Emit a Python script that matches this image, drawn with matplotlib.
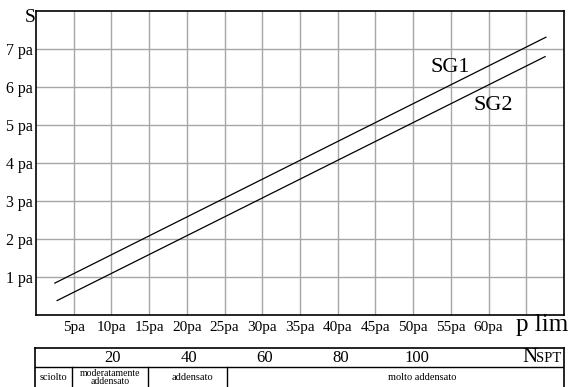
import matplotlib
matplotlib.use("Agg")
import matplotlib.pyplot as plt

# p lim (pa) against S (pa)
sg1_x = [2.5, 67.6]
sg1_y = [0.84, 7.31]
sg2_x = [2.8, 67.5]
sg2_y = [0.38, 6.80]

x_ticks = [5, 10, 15, 20, 25, 30, 35, 40, 45, 50, 55, 60, 65]
x_labels = ["5pa", "10pa", "15pa", "20pa", "25pa", "30pa", "35pa",
            "40pa", "45pa", "50pa", "55pa", "60pa", ""]
y_ticks = [1, 2, 3, 4, 5, 6, 7]
y_labels = ["1 pa", "2 pa", "3 pa", "4 pa", "5 pa", "6 pa", "7 pa"]

# NSPT scale and density classes
nspt_ticks = [20, 40, 60, 80, 100]
class_bounds = [-0.4, 9.3, 29.3, 50, 138.8]
class_names = ["sciolto", "moderatamente\naddensato", "addensato", "molto addensato"]
class_text_x = [4.4, 19.4, 41.0, 101.5]
class_sizes = [7.5, 7, 7.5, 7.5]

plt.rcParams["font.family"] = ["Liberation Serif", "DejaVu Serif"]

W, H = 570, 387
fig = plt.figure(figsize=(W / 100, H / 100), dpi=100)

# main chart: pixels x 36..564, y 11..315
ax = fig.add_axes([36 / W, (H - 315) / H, 528 / W, 304 / H])
ax.set_xlim(0, 70)
ax.set_ylim(0, 8)
ax.set_xticks(x_ticks)
ax.set_xticklabels(x_labels, fontsize=11)
ax.set_yticks(y_ticks)
ax.set_yticklabels(y_labels, fontsize=11.5)
ax.tick_params(length=0, pad=2)
ax.tick_params(axis="x", pad=4)
ax.grid(True, color="#a6a6a6", linewidth=1)
ax.set_axisbelow(True)
for s in ax.spines.values():
    s.set_linewidth(1.2)
    s.set_color("black")

ax.plot(sg1_x, sg1_y, color="black", linewidth=0.9)
ax.plot(sg2_x, sg2_y, color="black", linewidth=0.9)
ax.text(54.9, 6.5, "SG1", fontsize=16, ha="center", va="center")
ax.text(60.6, 5.5, "SG2", fontsize=16, ha="center", va="center")

fig.text(30 / W, 1 - 18 / H, "S", fontsize=14, ha="center", va="center")
fig.text(542 / W, 1 - 325 / H, "p lim", fontsize=18, ha="center", va="center")

# NSPT table: pixels x 35..564, y 347.5..387
tb = fig.add_axes([35 / W, 0.0, 529 / W, 39.5 / H])
tb.set_xlim(class_bounds[0], class_bounds[-1])
tb.set_ylim(0, 1)
tb.set_xticks([])
tb.set_yticks([])
tb.spines["bottom"].set_visible(False)
for s in ["top", "left", "right"]:
    tb.spines[s].set_linewidth(1.2)
tb.axhline(0.5, color="black", linewidth=1)
for b in class_bounds[1:-1]:
    tb.plot([b, b], [0, 0.5], color="black", linewidth=1)
for n in nspt_ticks:
    tb.text(n, 0.74, str(n), fontsize=12, ha="center", va="center")
for name, tx, fs in zip(class_names, class_text_x, class_sizes):
    tb.text(tx, 0.24, name, fontsize=fs, ha="center", va="center", linespacing=0.85)
tb.text(131.7, 0.74, "N", fontsize=15, ha="right", va="center")
tb.text(131.5, 0.71, "SPT", fontsize=10.5, ha="left", va="center")

fig.savefig("out.png", dpi=100)
